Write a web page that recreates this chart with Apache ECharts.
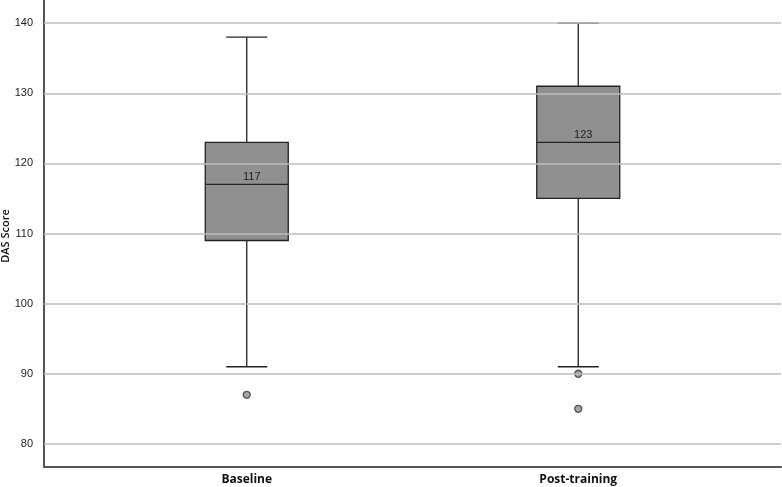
<!DOCTYPE html>
<html>
<head>
<meta charset="utf-8">
<script src="https://cdn.jsdelivr.net/npm/echarts@6/dist/echarts.min.js"></script>
<style>
  html, body { margin: 0; padding: 0; background: #fff; }
  #main { width: 782px; height: 487px; }
</style>
</head>
<body>
<div id="main"></div>
<script>
// DAS score per group
var categories = ['Baseline', 'Post-training']
// [lower whisker, Q1, median, Q3, upper whisker]
var boxValues = [
    [91, 109, 117, 123, 138],
    [91, 115, 123, 131, 140]
]
// outliers: [category index, value]
var outliers = [[0, 87], [1, 90], [1, 85]]
var yTicks = [80, 90, 100, 110, 120, 130, 140]
var yTitle = 'DAS Score'

var yMin = 76.7, yMax = 143.3

var boxData = boxValues.map((b, i) => [i].concat(b))
var medianPoints = boxValues.map((b, i) => [i, b[2]])

var chart = echarts.init(document.getElementById('main'))

// box + whiskers, caps half as wide as the box (like SPSS)
function renderBox(params, api) {
    var x = api.value(0)
    var lo = api.coord([x, api.value(1)])
    var q1 = api.coord([x, api.value(2)])
    var md = api.coord([x, api.value(3)])
    var q3 = api.coord([x, api.value(4)])
    var hi = api.coord([x, api.value(5)])
    var cx = lo[0]
    var bw = 83, cw = 41
    var line = { stroke: '#222', lineWidth: 1.3 }
    return {
        type: 'group',
        children: [
            { type: 'line', shape: { x1: cx, y1: hi[1], x2: cx, y2: q3[1] }, style: line },
            { type: 'line', shape: { x1: cx, y1: q1[1], x2: cx, y2: lo[1] }, style: line },
            { type: 'line', shape: { x1: cx - cw / 2, y1: hi[1], x2: cx + cw / 2, y2: hi[1] }, style: line },
            { type: 'line', shape: { x1: cx - cw / 2, y1: lo[1], x2: cx + cw / 2, y2: lo[1] }, style: line },
            {
                type: 'rect', shape: { x: cx - bw / 2, y: q3[1], width: bw, height: q1[1] - q3[1] },
                style: { fill: '#909090', stroke: '#222', lineWidth: 1.3 }
            },
            { type: 'line', shape: { x1: cx - bw / 2, y1: md[1], x2: cx + bw / 2, y2: md[1] }, style: line }
        ]
    }
}

var option = {
    backgroundColor: '#fff',
    animation: false,
    graphic: [{
        type: 'text', x: 6, y: 236, rotation: Math.PI / 2,
        style: {
            text: yTitle, fill: '#111', font: '600 11px "Open Sans"',
            align: 'center', verticalAlign: 'middle'
        }
    }],
    grid: [
        // frame: gridlines, y axis and bottom axis line
        { left: 44, right: 1, top: 0, bottom: 20, containLabel: false, outerBoundsMode: 'none' },
        // boxes, placed so the categories sit where they are in the picture
        { left: 81, right: 38, top: 0, bottom: 20, containLabel: false, outerBoundsMode: 'none' }
    ],
    xAxis: [
        {
            gridIndex: 0, type: 'value', min: 0, max: 1,
            axisLine: { show: true, onZero: false, lineStyle: { color: '#555', width: 2 } },
            axisTick: { show: false }, axisLabel: { show: false }, splitLine: { show: false }
        },
        {
            gridIndex: 1, type: 'category', data: categories, boundaryGap: true,
            axisLine: { show: false }, axisTick: { show: false }, splitLine: { show: false },
            axisLabel: {
                show: true, margin: 7, color: '#111', fontSize: 12, fontWeight: 'bold',
                fontFamily: 'Open Sans'
            }
        }
    ],
    yAxis: [
        {
            gridIndex: 0, type: 'value', min: yMin, max: yMax,
            axisLine: { show: true, lineStyle: { color: '#555', width: 2 } },
            axisTick: { show: false },
            axisLabel: {
                color: '#222', fontSize: 11, fontFamily: 'Liberation Sans', margin: 11,
                customValues: yTicks
            },
            splitLine: { show: false }
        },
        {
            gridIndex: 1, type: 'value', min: yMin, max: yMax,
            axisLine: { show: false }, axisTick: { show: false },
            axisLabel: { show: false }, splitLine: { show: false }
        }
    ],
    series: [
        {
            // gridlines drawn as markLines on the frame grid
            type: 'line', xAxisIndex: 0, yAxisIndex: 0, data: [], silent: true,
            markLine: {
                symbol: 'none', silent: true, label: { show: false },
                lineStyle: { color: '#bdbdbd', width: 1.5, type: 'solid' },
                data: yTicks.map(v => ({ yAxis: v }))
            },
            z: 1
        },
        {
            type: 'custom', xAxisIndex: 1, yAxisIndex: 1,
            data: boxData,
            renderItem: renderBox,
            encode: { x: 0, y: [1, 2, 3, 4, 5] },
            z: 3
        },
        {
            type: 'scatter', xAxisIndex: 1, yAxisIndex: 1,
            data: outliers,
            symbol: 'circle', symbolSize: 7,
            itemStyle: { color: '#909090', borderColor: '#333', borderWidth: 1.3 },
            z: 4
        },
        {
            type: 'scatter', xAxisIndex: 1, yAxisIndex: 1,
            data: medianPoints,
            symbolSize: 0,
            label: {
                show: true, position: 'top', distance: 2, offset: [5, 0],
                formatter: p => p.value[1],
                color: '#000', fontSize: 11, fontFamily: 'Liberation Sans'
            },
            z: 5
        }
    ]
}

chart.setOption(option)
</script>
</body>
</html>
